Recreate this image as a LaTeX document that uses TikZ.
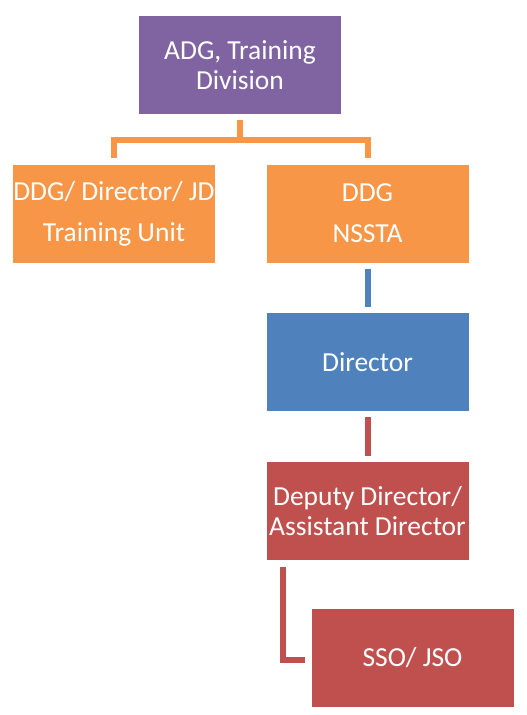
\documentclass[tikz,border=0pt]{standalone}
\usepackage{fontspec}
\setmainfont{Carlito}
\usetikzlibrary{calc}
\definecolor{purp}{HTML}{8064A2}
\definecolor{orng}{HTML}{F79646}
\definecolor{blu}{HTML}{4F81BD}
\definecolor{rd}{HTML}{C0504D}
\tikzset{
  unitbox/.style={rectangle, fill=#1, text=white, align=center, inner sep=0pt,
    minimum width=202pt, minimum height=98pt, font=\fontsize{27.5}{30}\selectfont},
  link/.style={draw=#1, line width=6pt, line join=miter}
}
\begin{document}
\begin{tikzpicture}[x=1pt, y=-1pt]
  \useasboundingbox (0,0) rectangle (527,715);
  % the boxes
  \node[unitbox=purp] (adg) at (240,65) {ADG, Training\\Division};
  \node[unitbox=orng] (unit) at (114,213.5) {DDG/ Director/ JD\\[11pt]Training Unit};
  \node[unitbox=orng] (nssta) at (367.5,213.5) {DDG\\[11pt]NSSTA};
  \node[unitbox=blu] (dir) at (367.5,362) {Director};
  \node[unitbox=rd] (dydir) at (367.5,511) {Deputy Director/\\Assistant Director};
  \node[unitbox=rd] (sso) at (412.5,657.5) {SSO/ JSO};
  % orange fork under the top box
  \coordinate (fork) at ($(adg.south)+(0,26)$);
  \draw[link=orng] ([yshift=-6pt]adg.south) -- (fork);
  \draw[link=orng] ([yshift=6pt]unit.north) |- (fork) -| ([yshift=6pt]nssta.north);
  % the chain on the right
  \draw[link=blu] ([yshift=-6pt]nssta.south) -- ([yshift=6pt]dir.north);
  \draw[link=rd] ([yshift=-6pt]dir.south) -- ([yshift=6pt]dydir.north);
  \draw[link=rd] ([xshift=17pt,yshift=-7pt]dydir.south west) |- ([xshift=-6pt,yshift=-2pt]sso.west);
\end{tikzpicture}
\end{document}
